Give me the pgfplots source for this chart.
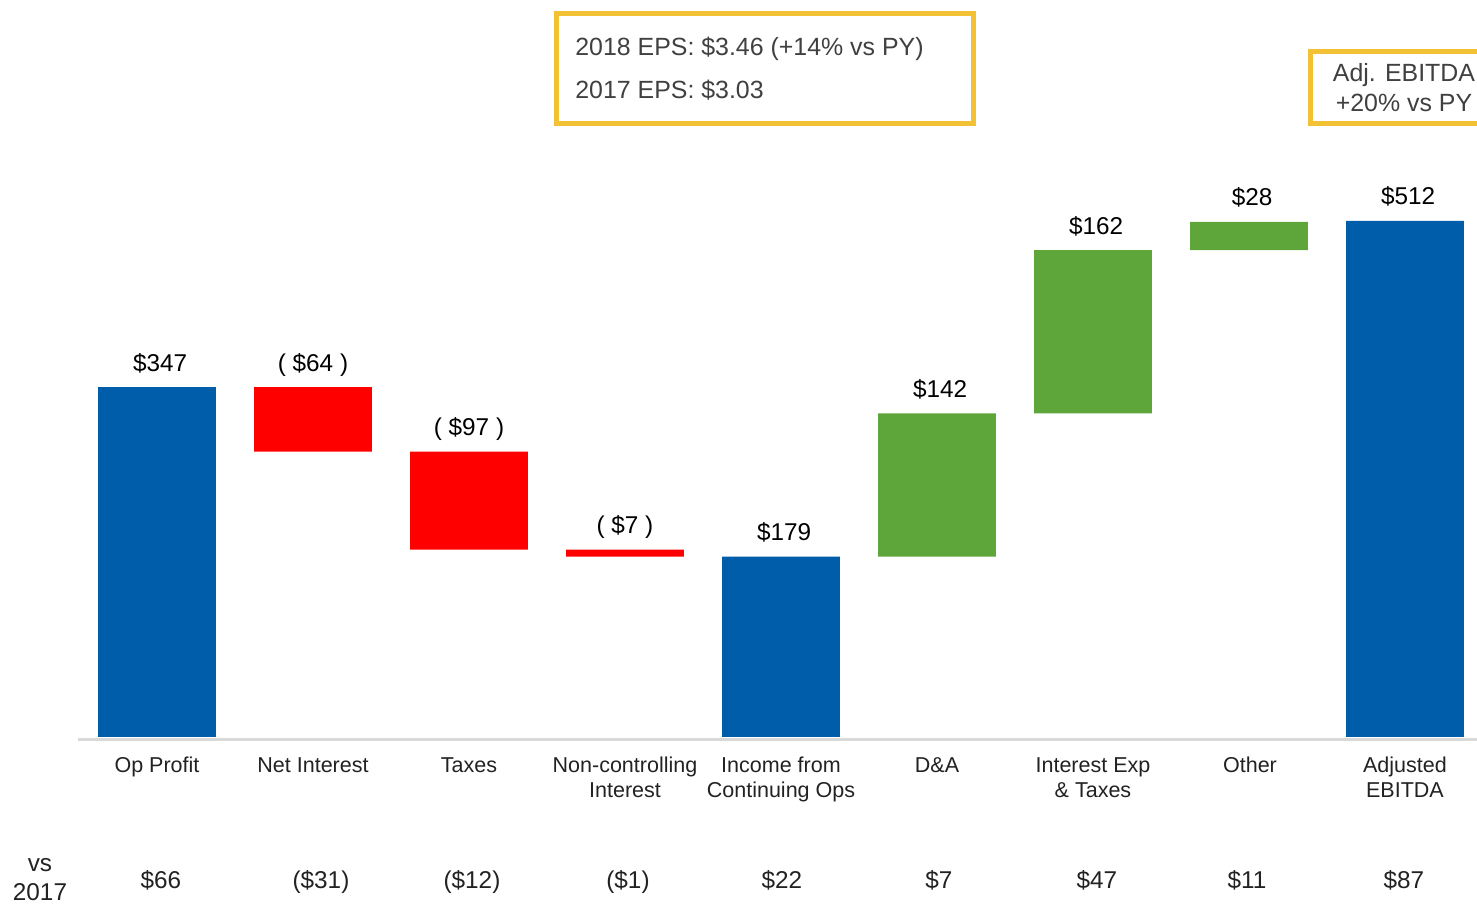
\documentclass[border=0pt]{standalone}
\usepackage{fontspec}
\setmainfont{Liberation Sans}
\usepackage{pgfplots}
\pgfplotsset{compat=1.18}
\definecolor{wfblue}{HTML}{005DAA}
\definecolor{wfred}{HTML}{FF0000}
\definecolor{wfgreen}{HTML}{5EA63A}
\definecolor{boxyellow}{HTML}{F2C234}
\definecolor{txt}{HTML}{222222}
\definecolor{boxtxt}{HTML}{404040}
\tikzset{vlab/.style={anchor=base, font=\fontsize{12.2}{14}\selectfont, text=black, yshift=8bp, inner sep=0pt},
  plab/.style={vlab, xshift=1.6bp},
  clab/.style={anchor=base, font=\fontsize{10.8}{12.5}\selectfont, text=txt, inner sep=0pt},
  blab/.style={anchor=base, font=\fontsize{12.2}{14}\selectfont, text=txt, inner sep=0pt},
  eps/.style={inner sep=0pt, font=\fontsize{12.5}{15}\selectfont, text=boxtxt}}
\begin{document}
\begin{tikzpicture}
\useasboundingbox (0,0) rectangle (738.5bp,453bp);
\begin{axis}[
  at={(39.5bp,84.5bp)}, anchor=south west,
  scale only axis, width=702bp, height=277.2bp,
  xmin=-0.5, xmax=8.5, ymin=0, ymax=550,
  hide axis,
  ybar stacked, bar width=0.756,
  clip=false,
]
\addplot[draw=none, fill=none] coordinates {(0,0) (1,283) (2,186) (3,179) (4,0) (5,179) (6,321) (7,483) (8,0)};
\addplot[draw=none, fill=wfblue] coordinates {(0,347) (1,0) (2,0) (3,0) (4,179) (5,0) (6,0) (7,0) (8,512)};
\addplot[draw=none, fill=wfred] coordinates {(0,0) (1,64) (2,97) (3,7) (4,0) (5,0) (6,0) (7,0) (8,0)};
\addplot[draw=none, fill=wfgreen] coordinates {(0,0) (1,0) (2,0) (3,0) (4,0) (5,142) (6,162) (7,28) (8,0)};
\node[plab] at (axis cs:0,347) {\$347};
\node[vlab] at (axis cs:1,347) {( \$64 )};
\node[vlab] at (axis cs:2,283) {( \$97 )};
\node[vlab] at (axis cs:3,186) {( \$7 )};
\node[plab] at (axis cs:4,179) {\$179};
\node[plab] at (axis cs:5,321) {\$142};
\node[plab] at (axis cs:6,483) {\$162};
\node[plab] at (axis cs:7,511) {\$28};
\node[plab] at (axis cs:8,512) {\$512};
\end{axis}
\begin{scope}[x=0.5bp, y=-0.5bp, yshift=453bp]
\draw[line width=1.5bp, black!15] (78,739.5) -- (1490,739.5);
\node[clab] at (157,773) {Op Profit};
\node[clab] at (313,773) {Net Interest};
\node[clab] at (469,773) {Taxes};
\node[clab] at (625,773) {Non-controlling};
\node[clab] at (625,798) {Interest};
\node[clab] at (781,773) {Income from};
\node[clab] at (781,798) {Continuing Ops};
\node[clab] at (937,773) {D\&A};
\node[clab] at (1093,773) {Interest Exp};
\node[clab] at (1093,798) {\& Taxes};
\node[clab] at (1250,773) {Other};
\node[clab] at (1405,773) {Adjusted};
\node[clab] at (1405,798) {EBITDA};
\node[blab] at (40,872) {vs};
\node[blab] at (40,901) {2017};
\node[blab] at (161,889) {\$66};
\node[blab] at (321,889) {(\$31)};
\node[blab] at (472,889) {(\$12)};
\node[blab] at (628,889) {(\$1)};
\node[blab] at (782,889) {\$22};
\node[blab] at (939,889) {\$7};
\node[blab] at (1097,889) {\$47};
\node[blab] at (1247,889) {\$11};
\node[blab] at (1404,889) {\$87};
\draw[line width=2.5bp, boxyellow] (557,14) rectangle (974,124);
\node[eps, anchor=base west] at (575,56) {2018 EPS: \$3.46 (+14\% vs PY)};
\node[eps, anchor=base west] at (575,99) {2017 EPS: \$3.03};
\draw[line width=2.5bp, boxyellow] (1311,52) rectangle (1500,124);
\node[eps, anchor=base] at (1404,82) {Adj. EBITDA};
\node[eps, anchor=base] at (1404,112) {+20\% vs PY};
\end{scope}
\end{tikzpicture}
\end{document}
